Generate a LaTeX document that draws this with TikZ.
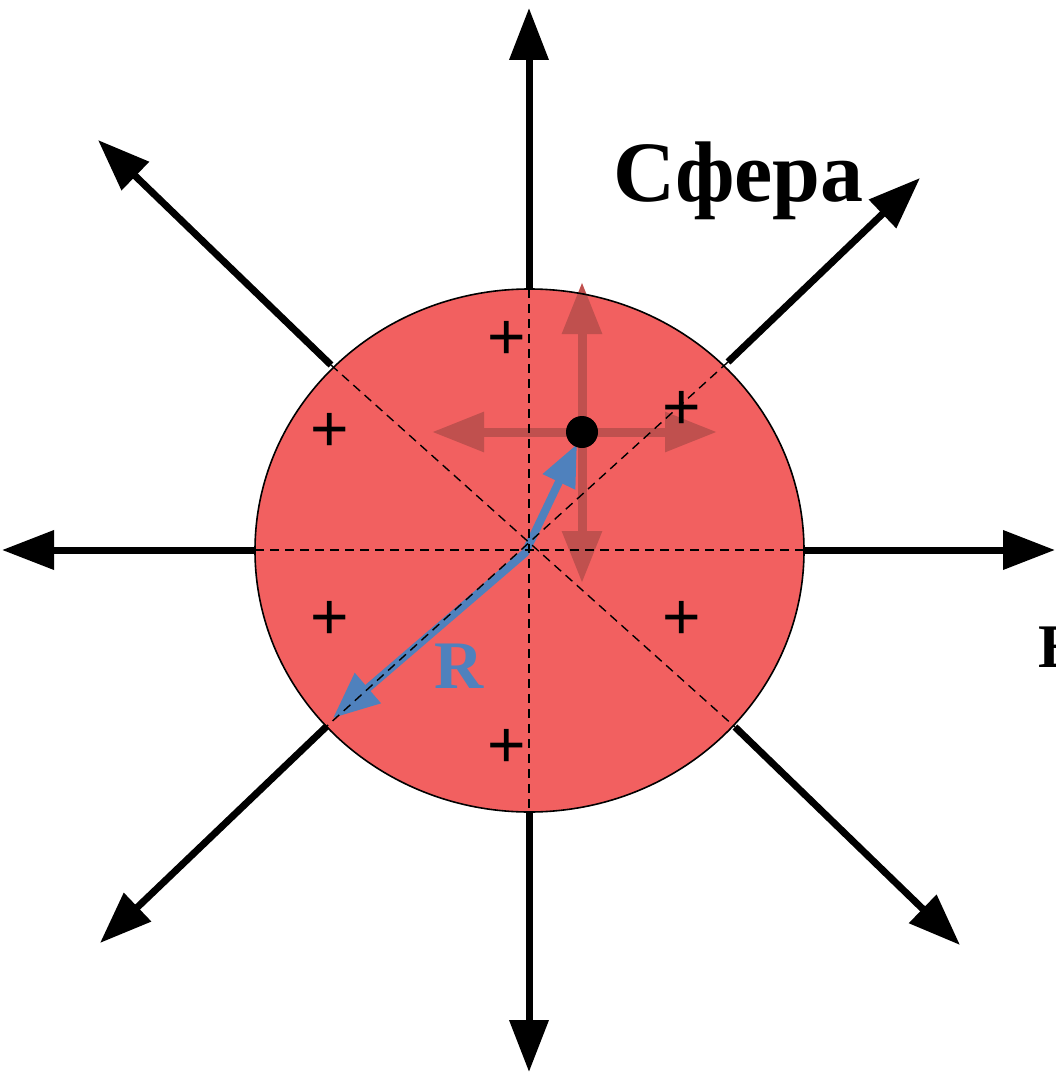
\documentclass[tikz,border=0pt]{standalone}
\usepackage{fontspec}
\setmainfont{Liberation Serif}
\newfontfamily\plusfont{Liberation Sans}
\usetikzlibrary{arrows.meta}
\definecolor{sphfill}{RGB}{242,96,96}
\definecolor{forcered}{RGB}{192,80,78}
\definecolor{radblue}{RGB}{79,129,189}
\tikzset{
  axis/.style={line width=7pt,-{Triangle[length=52pt,width=38pt]}},
  force/.style={line width=9pt,forcered,-{Triangle[length=52pt,width=38pt]}},
  guide/.style={line width=1.4pt,dash pattern=on 9pt off 6pt},
  charge/.style={font=\plusfont\fontsize{66}{66}\selectfont,inner sep=0pt},
}
\begin{document}
\begin{tikzpicture}[x=1pt,y=-1pt]
\useasboundingbox (0,0) rectangle (1056,1075);
% sphere
\coordinate (c) at (529.5,550.5);
\fill[sphfill] (c) ellipse [x radius=274.5, y radius=261.5];
% boundary points
\coordinate (top) at (529,289);
\coordinate (bot) at (529,812);
\coordinate (lft) at (255,550);
\coordinate (rgt) at (804,550);
\coordinate (ul) at (331,365);
\coordinate (ur) at (728,362);
\coordinate (ll) at (327,726);
\coordinate (lr) at (735,727);
% outer arrow tips
\coordinate (tTop) at (529,8);
\coordinate (tBot) at (529,1072);
\coordinate (tLft) at (2,550);
\coordinate (tRgt) at (1055,550);
\coordinate (tUL) at (98,140);
\coordinate (tUR) at (920,178);
\coordinate (tLL) at (100,943);
\coordinate (tLR) at (960,945);
% field arrows
\draw[axis] (top) -- (tTop);
\draw[axis] (bot) -- (tBot);
\draw[axis] (lft) -- (tLft);
\draw[axis] (rgt) -- (tRgt);
\draw[axis] (ul) -- (tUL);
\draw[axis] (ur) -- (tUR);
\draw[axis] (ll) -- (tLL);
\draw[axis] (lr) -- (tLR);
% point and forces
\coordinate (p) at (582,432);
\coordinate (fU) at (582,282);
\coordinate (fD) at (582,583);
\coordinate (fL) at (432,432);
\coordinate (fR) at (717,432);
\draw[force] (p) -- (fU);
\draw[force] (p) -- (fD);
\draw[force] (p) -- (fL);
\draw[force] (p) -- (fR);
% radius arrows
\coordinate (bA) at (577,444);
\coordinate (bC) at (525,553);
\coordinate (bB) at (333,718);
\draw[radblue,line width=8pt,line join=miter,
  {Triangle[length=42pt,width=34pt]}-{Triangle[length=46pt,width=38pt]}]
  (bA) -- (bC) -- (bB);
% guides
\draw[guide] (top) -- (bot);
\draw[guide] (lft) -- (rgt);
\draw[guide] (ul) -- (lr);
\draw[guide] (ur) -- (ll);
% charges
\node[charge] (q1) at (507,340) {+};
\node[charge] (q2) at (330,432) {+};
\node[charge] (q3) at (682,410) {+};
\node[charge] (q4) at (330,620) {+};
\node[charge] (q5) at (682,620) {+};
\node[charge] (q6) at (507,748) {+};
% dot
\fill (p) circle [radius=16];
% outline
\draw[line width=1.6pt] (c) ellipse [x radius=274.5, y radius=261.5];
% labels
\node[radblue,font=\bfseries\fontsize{68}{68}\selectfont,inner sep=0pt] (rl) at (459,666) {R};
\node[font=\bfseries\fontsize{86}{86}\selectfont,inner sep=0pt,anchor=base west] (sph) at (613,202) {Сфера};
\node[font=\bfseries\fontsize{62}{62}\selectfont,inner sep=0pt,anchor=base west] (ee) at (1038,667) {E};
\end{tikzpicture}
\end{document}
